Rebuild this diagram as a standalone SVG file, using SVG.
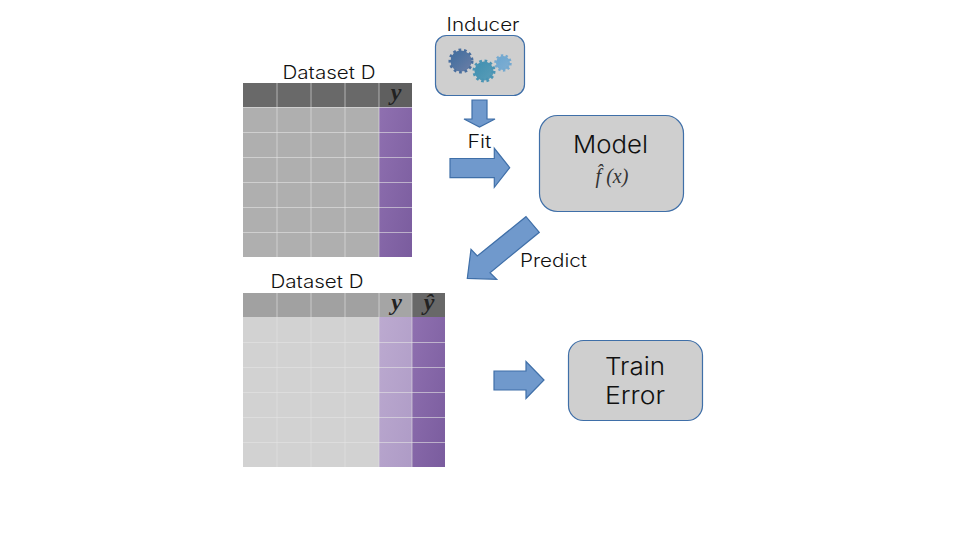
<svg xmlns="http://www.w3.org/2000/svg" width="960" height="540" viewBox="0 0 960 540">
<style>
.t{font-family:Inter,"Open Sans","Liberation Sans",sans-serif;font-weight:300;fill:#111}
.m{font-family:"Liberation Serif","DejaVu Serif",serif;font-style:italic;font-weight:bold;fill:#222}
.f{font-family:"Liberation Serif","DejaVu Serif",serif;font-style:italic;fill:#333}
.box{fill:#cfcfcf;stroke:#3f6fa8;stroke-width:1.200}
.ar{fill:#7099cc;stroke:#3f6fa8;stroke-width:1.200}
.g{stroke:#e4e4e4;stroke-width:1;fill:none}
</style>
<defs>
<linearGradient id="p1" x1="0" y1="0" x2="1" y2="1"><stop offset="0" stop-color="#8f70b0"/><stop offset="1" stop-color="#7a5c9e"/></linearGradient>
<linearGradient id="p2" x1="0" y1="0" x2="1" y2="1"><stop offset="0" stop-color="#bcaad0"/><stop offset="1" stop-color="#ae9bc6"/></linearGradient>
<linearGradient id="g1" x1="0" y1="0" x2="1" y2="1"><stop offset="0" stop-color="#3f6d9e"/><stop offset="1" stop-color="#6a7ea6"/></linearGradient>
<linearGradient id="g2" x1="0" y1="0" x2="1" y2="1"><stop offset="0" stop-color="#3f8fb0"/><stop offset="1" stop-color="#5a9db8"/></linearGradient>
<linearGradient id="g3" x1="0" y1="0" x2="1" y2="1"><stop offset="0" stop-color="#6ba6d0"/><stop offset="1" stop-color="#80aed2"/></linearGradient>
</defs>
<g id="connectors">
<polygon class="ar" points="472,100 487,100 487,119 495,119 479.500,127 464,119 472,119"/>
<polygon class="ar" points="450,158.500 494.300,158.500 494.300,148.300 509.700,167.700 494.300,187.300 494.300,177.700 450,177.700"/>
<polygon class="ar" points="526,216.700 539.300,232.300 490,272.700 496.700,279.300 467.300,278.300 471,249.300 477.300,256"/>
<polygon class="ar" points="494,371 526,371 526,361.500 544,380 526,398.500 526,390 494,390"/>
</g>
<g id="inducer">
<rect class="box" x="435.500" y="35.500" width="89" height="60" rx="11"/>
<circle cx="461" cy="61" r="10.500" fill="url(#g1)" stroke="#4a6f9e" stroke-width="4" stroke-dasharray="2.600 2.600"/>
<circle cx="461" cy="61" r="10" fill="url(#g1)"/>
<circle cx="484" cy="71" r="9.500" fill="url(#g2)" stroke="#4a94b4" stroke-width="4" stroke-dasharray="2.500 2.500"/>
<circle cx="503" cy="63" r="7" fill="url(#g3)" stroke="#74a9d0" stroke-width="3.500" stroke-dasharray="2.200 2.200"/>
<text class="t" x="483" y="31" font-size="18" text-anchor="middle" textLength="73" lengthAdjust="spacingAndGlyphs">Inducer</text>
</g>
<g id="table1">
<text class="t" x="329" y="79" font-size="18" text-anchor="middle" textLength="93" lengthAdjust="spacingAndGlyphs">Dataset D</text>
<rect x="243" y="83" width="136" height="24" fill="#696969"/>
<rect x="379" y="83" width="33" height="24" fill="#5f5f5f"/>
<rect x="243" y="107" width="136" height="150" fill="#afafaf"/>
<rect x="379" y="107" width="33" height="150" fill="url(#p1)"/>
<path class="g" d="M243 107.500H412M243 132.500H412M243 157.500H412M243 182.500H412M243 207.500H412M243 232.500H412M277 83V257M311 83V257M345 83V257M379 83V257" stroke-opacity=".6"/>
<text class="m" x="396" y="100" font-size="24" text-anchor="middle">y</text>
</g>
<g id="table2">
<text class="t" x="317" y="288" font-size="18" text-anchor="middle" textLength="93" lengthAdjust="spacingAndGlyphs">Dataset D</text>
<rect x="243" y="293" width="136" height="24" fill="#a1a1a1"/>
<rect x="379" y="293" width="33" height="24" fill="#a5a5a5"/>
<rect x="412" y="293" width="33" height="24" fill="#686868"/>
<rect x="243" y="317" width="136" height="150" fill="#d2d2d2"/>
<rect x="379" y="317" width="33" height="150" fill="url(#p2)"/>
<rect x="412" y="317" width="33" height="150" fill="url(#p1)"/>
<path class="g" d="M243 342.500H445M243 367.500H445M243 392.500H445M243 417.500H445M243 442.500H445M277 293V467M311 293V467M345 293V467M379 293V467M412 293V467" stroke-opacity=".6"/>
<text class="m" x="396.500" y="310" font-size="24" text-anchor="middle">y</text>
<text class="m" x="429" y="310" font-size="24" text-anchor="middle">ŷ</text>
</g>
<g id="model">
<rect class="box" x="539.500" y="115.500" width="144" height="96" rx="18"/>
<text class="t" x="610.500" y="153" font-size="24" text-anchor="middle" textLength="75" lengthAdjust="spacingAndGlyphs">Model</text>
<text class="f" x="612" y="183" font-size="20" text-anchor="middle" xml:space="preserve">f̂ (x)</text>
</g>
<g id="train-error">
<rect class="box" x="568.500" y="340.500" width="134" height="80" rx="15"/>
<text class="t" x="635" y="375" font-size="24" text-anchor="middle" textLength="60" lengthAdjust="spacingAndGlyphs">Train</text>
<text class="t" x="635" y="404" font-size="24" text-anchor="middle" textLength="60" lengthAdjust="spacingAndGlyphs">Error</text>
</g>
<text id="fit" class="t" x="479.500" y="148" font-size="18" text-anchor="middle" textLength="24" lengthAdjust="spacingAndGlyphs">Fit</text>
<text id="predict" class="t" x="520" y="267" font-size="18" textLength="67" lengthAdjust="spacingAndGlyphs">Predict</text>
</svg>
